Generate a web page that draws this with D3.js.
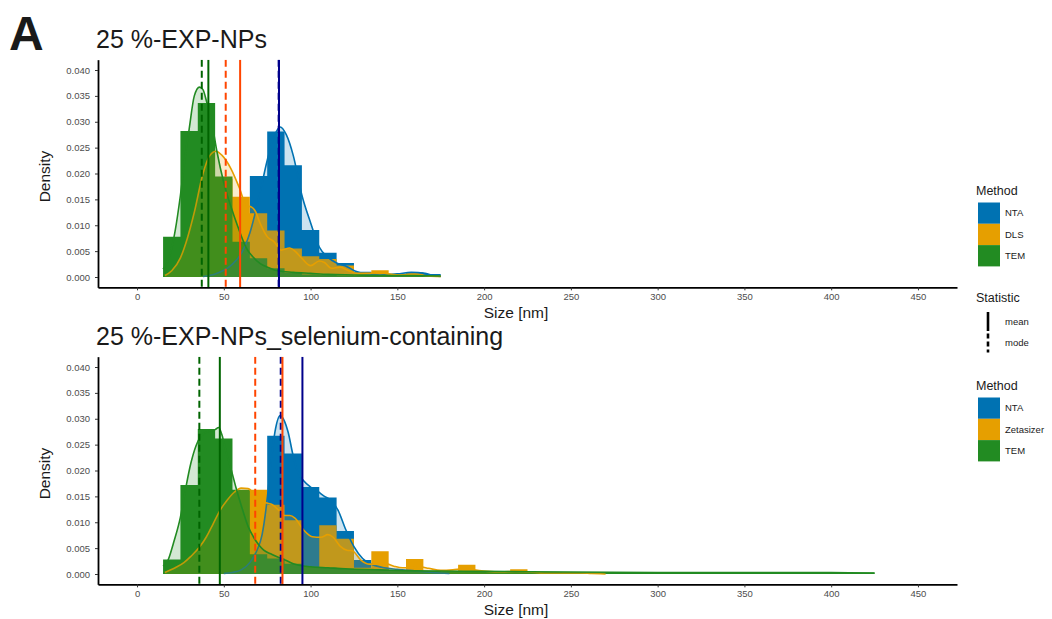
<!DOCTYPE html>
<html>
<head>
<meta charset="utf-8">
<script src="https://cdn.jsdelivr.net/npm/d3@7"></script>
<style>
  body { margin: 0; background: #fff; }
  svg { display: block; font-family: "Liberation Sans", Arial, Helvetica, sans-serif; }
  .axis .domain { stroke: #000; stroke-width: 1.8; }
  .axis .tick line { stroke: #333; }
  .axis .tick text { fill: #4d4d4d; font-size: 9.5px; }
</style>
</head>
<body>
<svg id="chart"></svg>
<script>
// ---- data ----
const methods = ['NTA', 'DLS', 'TEM']
const legendLabelsTop = ['NTA', 'DLS', 'TEM']
const legendLabelsBottom = ['NTA', 'Zetasizer', 'TEM']
const panelTitles = ['25 %-EXP-NPs', '25 %-EXP-NPs_selenium-containing']
const xTicks = [0, 50, 100, 150, 200, 250, 300, 350, 400, 450]
const yTicks = [0, 0.005, 0.010, 0.015, 0.020, 0.025, 0.030, 0.035, 0.040]

// histogram bins start at 15 nm, 10 nm wide
const binStart = 15, binWidth = 10

// panel 1: bins 15..175
const ntaHistTop = [0, 0, 0.0003, 0.0008, 0.003, 0.0195, 0.0281, 0.0216, 0.0091, 0.0047, 0.0027, 0.001, 0.0006, 0.0004, 0.0009, 0.0006]
const dlsHistTop = [0.0005, 0.004, 0.017, 0.019, 0.0155, 0.0123, 0.009, 0.0055, 0.004, 0.0035, 0.0022, 0.0008, 0.0013, 0.0005, 0.0008, 0.0003]
const temHistTop = [0.0078, 0.0282, 0.0336, 0.0194, 0.0068, 0.0036, 0.0017, 0.0008, 0.0005, 0.0004, 0.0003, 0.0002, 0.0002, 0.0002, 0.0002, 0.0002]

// panel 2: bins 15..425
const ntaHistBottom = [0, 0, 0, 0, 0.0003, 0.002, 0.0267, 0.0233, 0.0168, 0.0148, 0.0083, 0.0027, 0.0011, 0.0006, 0.0004, 0.0002]
const dlsHistBottom = [0.0003, 0.0018, 0.005, 0.012, 0.0162, 0.0163, 0.0134, 0.0104, 0.0008, 0.0094, 0.0068, 0.0012, 0.0044, 0.0005, 0.0029, 0.0004, 0.0002, 0.0018, 0.0002, 0.0002, 0.0009, 0.0001, 0.0001, 0.0004]
const temHistBottom = [0.0028, 0.0172, 0.028, 0.0262, 0.0163, 0.0038, 0.003, 0.002, 0.0014, 0.0012, 0.001, 0.0009, 0.0008, 0.0007, 0.0006, 0.0006, 0.0005, 0.0005, 0.0005, 0.0004, 0.0004, 0.0004, 0.0004, 0.0003, 0.0003, 0.0003, 0.0003, 0.0003, 0.0003, 0.0003, 0.0003, 0.0003, 0.0003, 0.0003, 0.0003, 0.0003, 0.0003, 0.0003, 0.0003, 0.0003, 0.0003]

// density curves [size, density]
const ntaDensTop = [[38, 0.0001], [45, 0.0006], [50, 0.0013], [55, 0.0025], [60, 0.0045], [65, 0.0085], [70, 0.015], [75, 0.0225], [79, 0.0272], [82.5, 0.029], [86, 0.0275], [90, 0.0235], [95, 0.0158], [100, 0.0105], [105, 0.0058], [110, 0.0038], [115, 0.0027], [121, 0.002], [126, 0.0011], [132, 0.0006], [140, 0.0004], [150, 0.0006], [158, 0.0009], [166, 0.0007], [172, 0.0002], [175, 0.0001]]
const dlsDensTop = [[16, 0.0003], [20, 0.0012], [25, 0.0037], [29, 0.0075], [33, 0.0125], [38, 0.02], [42, 0.0235], [45.5, 0.0243], [49, 0.0235], [54, 0.021], [59, 0.0172], [63, 0.0138], [66, 0.0135], [68, 0.0128], [71, 0.0103], [75, 0.0078], [79, 0.0068], [83, 0.0052], [88, 0.0056], [91, 0.005], [95, 0.0036], [100, 0.0022], [105, 0.0031], [108, 0.0028], [112, 0.0017], [117, 0.0019], [122, 0.0012], [127, 0.0007], [133, 0.0007], [139, 0.0009], [145, 0.0006], [152, 0.0004], [160, 0.0005], [168, 0.0002], [175, 0.0001]]
const temDensTop = [[15, 0.0015], [19, 0.0043], [22, 0.009], [25, 0.0158], [28, 0.024], [30, 0.0285], [33, 0.035], [36, 0.0367], [38, 0.0362], [40, 0.034], [43, 0.03], [46, 0.0243], [50, 0.0182], [54, 0.0137], [58, 0.0098], [63, 0.0056], [67, 0.0038], [71, 0.0026], [76, 0.0018], [81, 0.0012], [90, 0.0009], [100, 0.0007], [110, 0.0005], [125, 0.0004], [140, 0.0003], [160, 0.0003], [175, 0.0002]]

const ntaDensBottom = [[50, 0.0001], [55, 0.0003], [60, 0.0008], [65, 0.0022], [69, 0.0045], [72, 0.0075], [75, 0.0145], [77, 0.021], [79.5, 0.0275], [82.5, 0.0306], [85, 0.0295], [87, 0.0275], [90, 0.0228], [93, 0.0195], [96, 0.018], [100, 0.0168], [104, 0.016], [108, 0.015], [112, 0.0142], [116, 0.0122], [120, 0.0088], [125, 0.0053], [130, 0.003], [135, 0.0019], [141, 0.0013], [150, 0.0009], [160, 0.0006], [170, 0.0003], [180, 0.0001]]
const dlsDensBottom = [[16, 0.0003], [22, 0.0012], [27, 0.0022], [31, 0.0034], [36, 0.0052], [40, 0.0072], [44, 0.0098], [48, 0.0124], [52, 0.0143], [56, 0.0158], [60, 0.0166], [64, 0.0165], [67, 0.0157], [70, 0.0147], [74, 0.0138], [78, 0.0134], [82, 0.0122], [85, 0.0113], [88, 0.0113], [91, 0.0108], [96, 0.0085], [101, 0.0072], [106, 0.0071], [110, 0.0076], [113, 0.0071], [117, 0.0054], [121, 0.0046], [124, 0.0045], [129, 0.0027], [134, 0.0019], [139, 0.0019], [143, 0.002], [148, 0.0015], [153, 0.0012], [158, 0.0012], [163, 0.0014], [168, 0.0011], [175, 0.0007], [182, 0.0008], [188, 0.001], [194, 0.0008], [202, 0.0005], [210, 0.0004], [218, 0.0005], [226, 0.0004], [235, 0.0002], [245, 0.0002], [255, 0.0002], [262, 0.0001], [270, 0]]
const temDensBottom = [[15, 0.0015], [18, 0.0028], [21, 0.006], [25, 0.011], [28, 0.0165], [31, 0.0214], [34, 0.0248], [37, 0.0267], [41, 0.0276], [45, 0.0279], [47, 0.0283], [49, 0.0268], [51, 0.024], [54, 0.0205], [57, 0.0167], [61, 0.0122], [64, 0.0092], [67, 0.0072], [70, 0.0057], [73, 0.0046], [77, 0.0039], [81, 0.0033], [86, 0.0026], [90, 0.002], [100, 0.0014], [110, 0.0012], [120, 0.001], [140, 0.0008], [160, 0.0006], [200, 0.0005], [250, 0.0004], [300, 0.0003], [350, 0.0003], [400, 0.0003], [425, 0.0002]]

// mean / mode (nm) per method
const meansTop = [81.8, 59.4, 41.1]
const modesTop = [81.6, 51.1, 37.3]
const meansBottom = [95.3, 83.8, 47.7]
const modesBottom = [82.8, 68.1, 35.9]

// ---- styling ----
const fillColors = { NTA: '#0072B2', DLS: '#E69F00', TEM: '#228B22' }
const statColors = { NTA: '#00008B', DLS: '#FF4500', TEM: '#006400' }
const barAlpha = 1, densAlpha = 0.2

const W = 1052, H = 619
const svg = d3.select('#chart').attr('width', W).attr('height', H)

const x = d3.scaleLinear().domain([-22.5, 472.5]).range([98, 957])

const panels = [
    {
        title: panelTitles[0], top: 59.65, bottom: 287.35, titleY: 48,
        hist: [ntaHistTop, dlsHistTop, temHistTop],
        dens: [ntaDensTop, dlsDensTop, temDensTop],
        means: meansTop, modes: modesTop
    },
    {
        title: panelTitles[1], top: 356.65, bottom: 584.35, titleY: 345,
        hist: [ntaHistBottom, dlsHistBottom, temHistBottom],
        dens: [ntaDensBottom, dlsDensBottom, temDensBottom],
        means: meansBottom, modes: modesBottom
    }
]

// big panel letter
svg.append('text')
    .attr('x', 9).attr('y', 50)
    .attr('font-size', 48).attr('font-weight', 'bold')
    .attr('fill', '#1a1a1a')
    .text('A')

panels.forEach((p, pi) => {
    const y = d3.scaleLinear().domain([-0.002, 0.042]).range([p.bottom, p.top])
    const g = svg.append('g')

    g.append('clipPath').attr('id', 'clip' + pi)
        .append('rect')
        .attr('x', 98).attr('y', p.top)
        .attr('width', 957 - 98).attr('height', p.bottom - p.top)

    const plot = g.append('g').attr('clip-path', `url(#clip${pi})`)

    // histograms first (one stepped path each, no seams between bars)
    methods.forEach((m, mi) => {
        const vals = p.hist[mi]
        const steps = vals.map((v, i) => [binStart + i * binWidth, v])
        steps.push([binStart + vals.length * binWidth, vals[vals.length - 1]])

        plot.append('path')
            .datum(steps)
            .attr('d', d3.area()
                .x(d => x(d[0]))
                .y0(y(0))
                .y1(d => y(d[1]))
                .curve(d3.curveStepAfter))
            .attr('fill', fillColors[m])
            .attr('fill-opacity', barAlpha)
    })

    // then the density layers on top of all bars
    methods.forEach((m, mi) => {
        plot.append('path')
            .datum(p.dens[mi])
            .attr('d', d3.area()
                .x(d => x(d[0]))
                .y0(y(0))
                .y1(d => y(d[1]))
                .curve(d3.curveMonotoneX))
            .attr('fill', fillColors[m])
            .attr('fill-opacity', densAlpha)

        plot.append('path')
            .datum(p.dens[mi])
            .attr('d', d3.line()
                .x(d => x(d[0]))
                .y(d => y(d[1]))
                .curve(d3.curveMonotoneX))
            .attr('fill', 'none')
            .attr('stroke', fillColors[m])
            .attr('stroke-width', 1.6)
    })

    // mean (solid) and mode (dashed) lines
    methods.forEach((m, mi) => {
        plot.append('line')
            .attr('x1', x(p.means[mi])).attr('x2', x(p.means[mi]))
            .attr('y1', p.top).attr('y2', p.bottom)
            .attr('stroke', statColors[m]).attr('stroke-width', 2)
        plot.append('line')
            .attr('x1', x(p.modes[mi])).attr('x2', x(p.modes[mi]))
            .attr('y1', p.top).attr('y2', p.bottom)
            .attr('stroke', statColors[m]).attr('stroke-width', 2)
            .attr('stroke-dasharray', '7,4')
    })

    // axes
    g.append('g')
        .attr('class', 'axis')
        .attr('transform', `translate(0,${p.bottom})`)
        .call(d3.axisBottom(x).tickValues(xTicks).tickSize(3).tickPadding(3).tickSizeOuter(0))

    g.append('g')
        .attr('class', 'axis')
        .attr('transform', 'translate(98,0)')
        .call(d3.axisLeft(y).tickValues(yTicks).tickFormat(d3.format('.3f')).tickSize(3).tickPadding(5).tickSizeOuter(0))

    g.selectAll('.axis text').attr('font-family', null)

    // titles
    g.append('text')
        .attr('x', 96).attr('y', p.titleY)
        .attr('font-size', 25).attr('fill', '#1a1a1a')
        .text(p.title)

    g.append('text')
        .attr('transform', `translate(50,${(p.top + p.bottom) / 2 + 3}) rotate(-90)`)
        .attr('text-anchor', 'middle')
        .attr('font-size', 15.5).attr('fill', '#1a1a1a')
        .text('Density')

    g.append('text')
        .attr('x', 516).attr('y', p.bottom + 31)
        .attr('text-anchor', 'middle')
        .attr('font-size', 15.5).attr('fill', '#1a1a1a')
        .text('Size [nm]')
})

// ---- legends ----
function methodLegend(top, labels) {
    const lg = svg.append('g')
    lg.append('text')
        .attr('x', 976).attr('y', top)
        .attr('font-size', 12.5).attr('fill', '#1a1a1a')
        .text('Method')
    lg.selectAll('rect')
        .data(methods)
        .join('rect')
        .attr('x', 978).attr('y', (d, i) => top + 8 + i * 21.3)
        .attr('width', 22).attr('height', 21.3)
        .attr('fill', d => fillColors[d])
    lg.selectAll('.lab')
        .data(labels)
        .join('text')
        .attr('class', 'lab')
        .attr('x', 1005).attr('y', (d, i) => top + 8 + i * 21.3 + 10.6)
        .attr('dy', '0.35em')
        .attr('font-size', 9.5).attr('fill', '#1a1a1a')
        .text(d => d)
}
methodLegend(194.5, legendLabelsTop)
methodLegend(389.5, legendLabelsBottom)

const statLabels = ['mean', 'mode']
const sg = svg.append('g')
sg.append('text')
    .attr('x', 976).attr('y', 302)
    .attr('font-size', 12.5).attr('fill', '#1a1a1a')
    .text('Statistic')
sg.selectAll('line')
    .data(statLabels)
    .join('line')
    .attr('x1', 988).attr('x2', 988)
    .attr('y1', (d, i) => 312 + i * 21.5).attr('y2', (d, i) => 331 + i * 21.5)
    .attr('stroke', '#000').attr('stroke-width', 2.6)
    .attr('stroke-dasharray', d => d === 'mode' ? '5,3' : null)
sg.selectAll('.lab')
    .data(statLabels)
    .join('text')
    .attr('class', 'lab')
    .attr('x', 1005).attr('y', (d, i) => 321.5 + i * 21.5)
    .attr('dy', '0.35em')
    .attr('font-size', 9.5).attr('fill', '#1a1a1a')
    .text(d => d)
</script>
</body>
</html>
